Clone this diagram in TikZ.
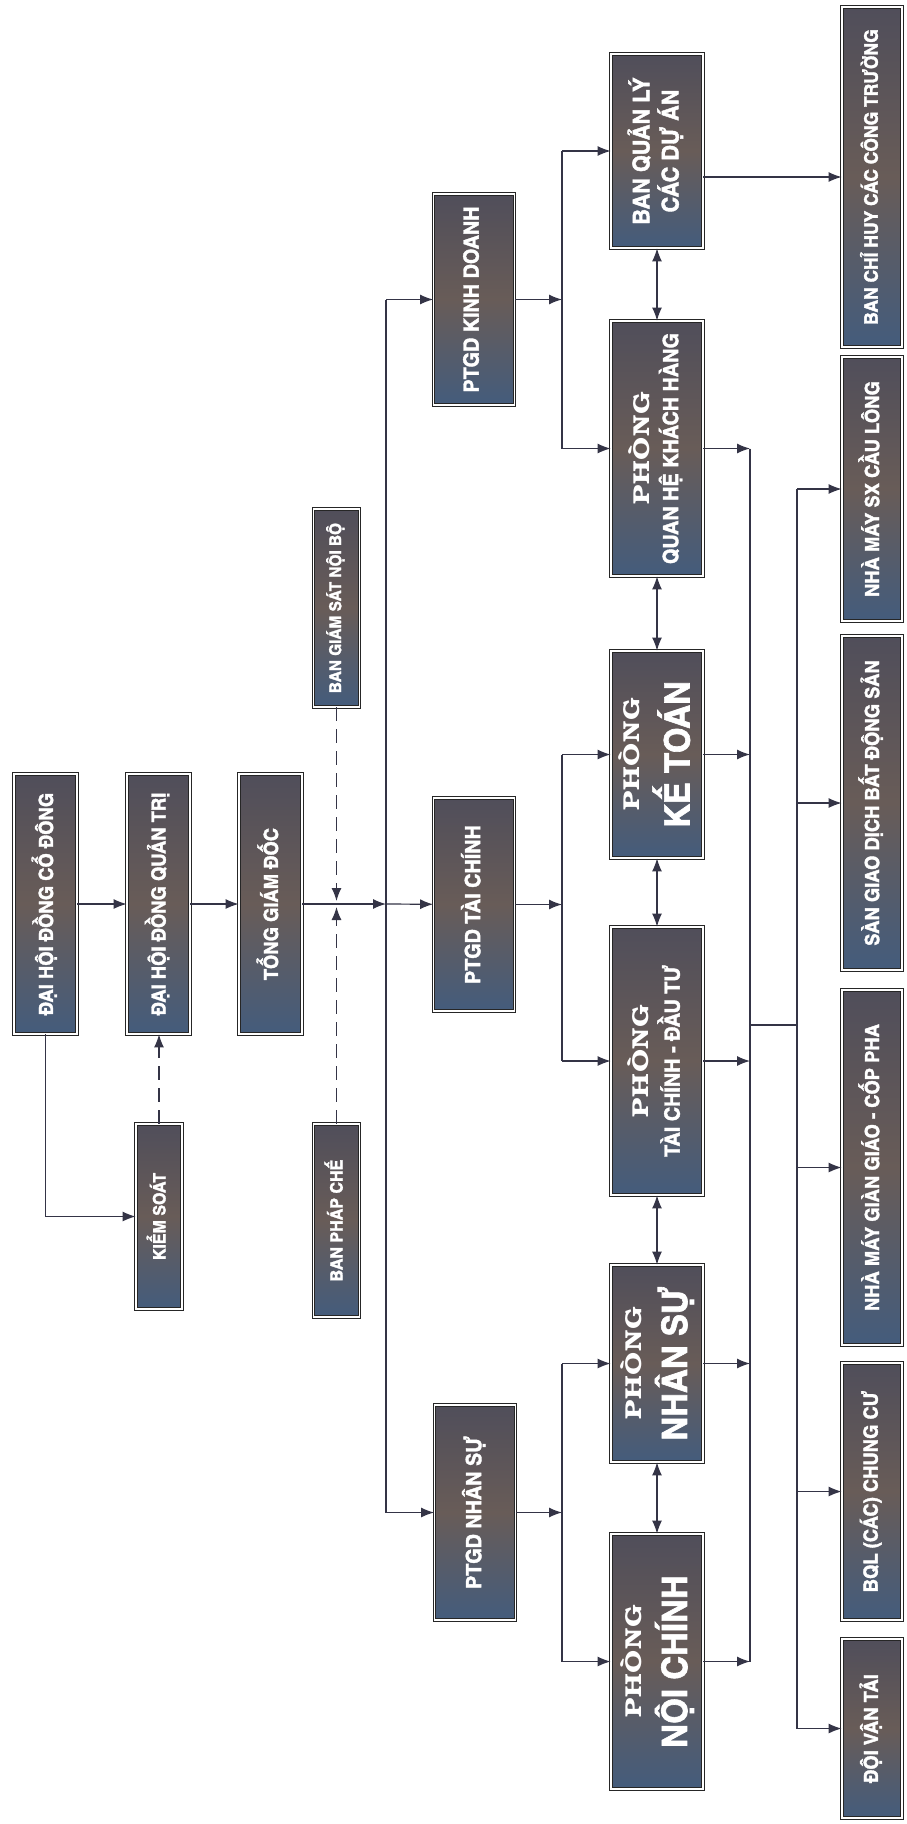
\documentclass[tikz,border=0pt]{standalone}
\usepackage{fontspec}
\usetikzlibrary{positioning, arrows.meta}
\newfontfamily\cnfont[FakeBold=1.8, FakeStretch=1.15]{texgyreheroscn-bold.otf}
\newfontfamily\phfont[FakeStretch=1.25, LetterSpace=4]{texgyrebonum-bold.otf}
\definecolor{linec}{RGB}{52,52,70}
\definecolor{boxtop}{RGB}{80,78,90}
\definecolor{boxmid}{RGB}{104,92,88}
\definecolor{boxbot}{RGB}{68,92,124}
\newcommand{\vtxt}[1]{\rotatebox{90}{\begin{tabular}{@{}c@{}}#1\end{tabular}}}
\newcommand{\phong}[1]{\rotatebox{90}{\begin{tabular}{@{}c@{}}{\phfont\fontsize{23}{25}\selectfont PHÒNG}\\[2pt]#1\end{tabular}}}
\tikzset{
    dept/.style={
        draw=black!85,
        double=white,
        double distance=1.6pt,
        line width=0.8pt,
        top color=boxtop,
        bottom color=boxbot,
        middle color=boxmid,
        text=white,
        inner sep=0pt,
        font=\cnfont\fontsize{19.5}{22}\selectfont,
    },
    deptn/.style={dept, font=\cnfont\fontsize{17}{20}\selectfont},
    deptp/.style={dept, font=\cnfont\fontsize{21}{23}\selectfont},
    deptb/.style={dept, font=\cnfont\fontsize{35}{37}\selectfont},
    arr/.style={draw=linec, line width=1.2pt, -{Latex[length=13pt,width=10pt]}},
    dasharr/.style={arr, dash pattern=on 14pt off 8pt},
    biarr/.style={arr, {Latex[length=13pt,width=10pt]}-{Latex[length=13pt,width=10pt]}},
    link/.style={draw=linec, line width=1.2pt},
}

\begin{document}
\begin{tikzpicture}[x=1pt, y=-1pt]
                   \fill[white] (0,0) rectangle (907,1824);
                   \useasboundingbox (0,0) rectangle (907,1824);
                   % board level
                   \node[dept, minimum width=63, minimum height=260] (dhcd) at (45.5,904) {\vtxt{ĐẠI HỘI ĐỒNG CỔ ĐÔNG}};
                   \node[dept, minimum width=63, minimum height=260] (hdqt) at (158.5,904) {\vtxt{ĐẠI HỘI ĐỒNG QUẢN TRỊ}};
                   \node[dept, minimum width=63, minimum height=260] (tgd) at (270.5,904) {\vtxt{TỔNG GIÁM ĐỐC}};
                   \node[deptn, minimum width=46, minimum height=185] (ks) at (159,1216.5) {\vtxt{KIỂM SOÁT}};
                   \node[deptn, minimum width=46, minimum height=198, font=\cnfont\fontsize{16.3}{19}\selectfont] (bgs) at (336.5,608) {\vtxt{BAN GIÁM SÁT NỘI BỘ}};
                   \node[deptn, minimum width=46, minimum height=193] (bpc) at (336.5,1220.5) {\vtxt{BAN PHÁP CHẾ}};
                   \draw[arr] (dhcd) to (hdqt);
                   \draw[arr] (hdqt) to (tgd);
                   \draw[arr] (dhcd.south) |- (ks);
                   \draw[dasharr] (ks.north) to (ks.north |- hdqt.south);
                   % deputies
                   \node[deptp, minimum width=81, minimum height=211] (pkd) at (474,299.5) {\vtxt{PTGD KINH DOANH}};
                   \node[deptp, minimum width=81, minimum height=213] (ptc) at (474,904.5) {\vtxt{PTGD TÀI CHÍNH}};
                   \node[deptp, minimum width=81, minimum height=215] (pns) at (475,1512.5) {\vtxt{PTGD NHÂN SỰ}};
                   \coordinate (j0) at (386,904);
                   \draw[arr] (tgd) to (j0);
                   \draw[arr] (j0) to (ptc);
                   \draw[link] (j0 |- pkd) to (j0 |- pns);
                   \draw[arr] (j0 |- pkd) to (pkd);
                   \draw[arr] (j0 |- pns) to (pns);
                   \draw[dasharr, shorten >=3pt] (bgs) to (bgs |- j0);
                   \draw[dasharr, shorten >=3pt] (bpc) to (bpc |- j0);
                   % departments
                   \node[dept, minimum width=92, minimum height=194, font=\cnfont\fontsize{23}{27}\selectfont] (bql) at (657,151) {\vtxt{BAN QUẢN LÝ\\CÁC DỰ ÁN}};
                   \node[deptp, minimum width=92, minimum height=255] (qhkh) at (657,448.5) {\phong{QUAN HỆ KHÁCH HÀNG}};
                   \node[deptb, minimum width=92, minimum height=207] (kt) at (657,754.5) {\phong{KẾ TOÁN}};
                   \node[deptp, minimum width=92, minimum height=268] (tcdt) at (657,1061) {\phong{TÀI CHÍNH - ĐẦU TƯ}};
                   \node[deptb, minimum width=92, minimum height=197] (ns) at (657,1363.5) {\phong{NHÂN SỰ}};
                   \node[deptb, minimum width=92, minimum height=255] (nc) at (657,1661.5) {\phong{NỘI CHÍNH}};
                   \coordinate (jk) at (562,299.5);
                   \coordinate (jt) at (562,904.5);
                   \coordinate (jn) at (562,1512.5);
                   \draw[arr] (pkd) to (jk);
                   \draw[link] (jk |- bql) to (jk |- qhkh);
                   \draw[arr] (jk |- bql) to (bql);
                   \draw[arr] (jk |- qhkh) to (qhkh);
                   \draw[arr] (ptc) to (jt);
                   \draw[link] (jt |- kt) to (jt |- tcdt);
                   \draw[arr] (jt |- kt) to (kt);
                   \draw[arr] (jt |- tcdt) to (tcdt);
                   \draw[arr] (pns) to (jn);
                   \draw[link] (jn |- ns) to (jn |- nc);
                   \draw[arr] (jn |- ns) to (ns);
                   \draw[arr] (jn |- nc) to (nc);
                   \draw[biarr] (bql) to (qhkh);
                   \draw[biarr] (qhkh) to (kt);
                   \draw[biarr] (kt) to (tcdt);
                   \draw[biarr] (tcdt) to (ns);
                   \draw[biarr] (ns) to (nc);
                   % units
                   \node[dept, minimum width=60, minimum height=340, font=\cnfont\fontsize{18.5}{21}\selectfont] (bch) at (872,177) {\vtxt{BAN CHỈ HUY CÁC CÔNG TRƯỜNG}};
                   \node[dept, minimum width=60, minimum height=264] (nmsx) at (872,489) {\vtxt{NHÀ MÁY SX CẦU LÔNG}};
                   \node[dept, minimum width=60, minimum height=334] (sgd) at (872,803) {\vtxt{SÀN GIAO DỊCH BẤT ĐỘNG SẢN}};
                   \node[dept, minimum width=60, minimum height=355] (nmgg) at (872,1167.5) {\vtxt{NHÀ MÁY GIÀN GIÁO - CỐP PHA}};
                   \node[dept, minimum width=60, minimum height=257] (bqlcc) at (872,1491.5) {\vtxt{BQL (CÁC) CHUNG CƯ}};
                   \node[dept, minimum width=60, minimum height=179] (dvt) at (872,1728.5) {\vtxt{ĐỘI VẬN TẢI}};
                   \coordinate (r1) at (750,1025);
                   \coordinate (r2) at (797,1025);
                   \draw[arr] (bql.east |- bch) to (bch);
                   \draw[arr] (qhkh) to (r1 |- qhkh);
                   \draw[arr] (kt) to (r1 |- kt);
                   \draw[arr] (tcdt) to (r1 |- tcdt);
                   \draw[arr] (ns) to (r1 |- ns);
                   \draw[arr] (nc) to (r1 |- nc);
                   \draw[link] (r1 |- qhkh) to (r1 |- nc);
                   \draw[link] (r1) to (r2);
                   \draw[link] (r2 |- nmsx) to (r2 |- dvt);
                   \draw[arr] (r2 |- nmsx) to (nmsx);
                   \draw[arr] (r2 |- sgd) to (sgd);
                   \draw[arr] (r2 |- nmgg) to (nmgg);
                   \draw[arr] (r2 |- bqlcc) to (bqlcc);
                   \draw[arr] (r2 |- dvt) to (dvt);
\end{tikzpicture}
\end{document}
